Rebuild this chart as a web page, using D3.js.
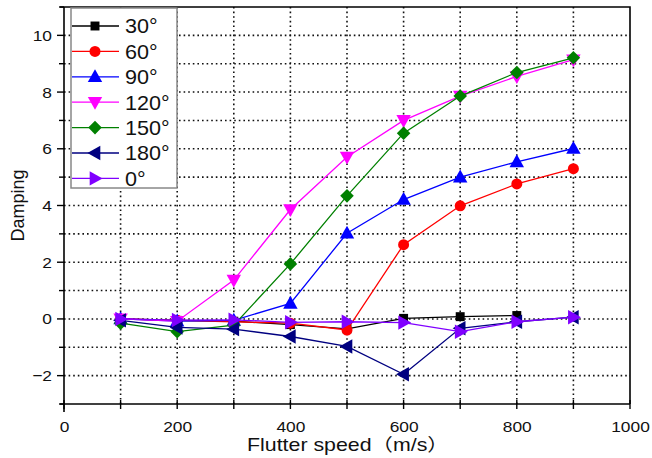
<!DOCTYPE html>
<html>
<head>
<meta charset="utf-8">
<script src="https://cdn.jsdelivr.net/npm/d3@7"></script>
<style>
  html, body { margin: 0; padding: 0; background: #fff; }
  svg { display: block; font-family: "Liberation Sans", Arial, sans-serif; }
</style>
</head>
<body>
<svg id="chart" width="652" height="458"></svg>
<script>
// Flutter speed samples (m/s)
const speeds = [100, 200, 300, 400, 500, 600, 700, 800, 900];

// Damping per azimuth angle
const angles = ["30°", "60°", "90°", "120°", "150°", "180°", "0°"];
const damp30  = [0.0, -0.05, -0.08, -0.2, -0.35, 0.02, 0.08, 0.12];
const damp60  = [0.0, -0.05, -0.1, -0.15, -0.39, 2.62, 3.99, 4.76, 5.3];
const damp90  = [0.0, -0.08, -0.05, 0.55, 3.02, 4.21, 5.0, 5.54, 6.01];
const damp120 = [0.0, -0.08, 1.37, 3.86, 5.71, 7.0, 7.86, 8.55, 9.14];
const damp150 = [-0.15, -0.45, -0.22, 1.94, 4.34, 6.55, 7.86, 8.69, 9.21];
const damp180 = [-0.05, -0.3, -0.36, -0.62, -0.97, -1.95, -0.33, -0.1, 0.06];
const damp0   = [0.0, -0.04, -0.03, -0.12, -0.1, -0.13, -0.45, -0.1, 0.06];

const seriesValues = [damp30, damp60, damp90, damp120, damp150, damp180, damp0];
const colors = ["#000000", "#ff0000", "#0000ff", "#ff00ff", "#008000", "#000080", "#8000ff"];
const symbolTypes = ["square", "circle", "triUp", "triDown", "diamond", "triLeft", "triRight"];

const xTicks = [0, 200, 400, 600, 800, 1000];
const yTicks = [-2, 0, 2, 4, 6, 8, 10];

const svg = d3.select("#chart");
const plotL = 64, plotR = 630, plotT = 7, plotB = 404;
const stretch = 1.12; // text is set slightly wide

const x = d3.scaleLinear().domain([0, 1000]).range([plotL, plotR]);
const y = d3.scaleLinear().domain([-3, 11]).range([plotB, plotT]);

// dotted grid
const grid = svg.append("g");
grid.selectAll("line.v").data(d3.range(100, 1000, 100)).join("line")
  .attr("x1", d => x(d)).attr("x2", d => x(d))
  .attr("y1", y(11)).attr("y2", y(-3))
  .attr("stroke", "#111").attr("stroke-width", 1.6).attr("stroke-dasharray", "1.6,3");
grid.selectAll("line.h").data(d3.range(-2, 11, 1)).join("line")
  .attr("y1", d => y(d)).attr("y2", d => y(d))
  .attr("x1", x(0)).attr("x2", x(1000))
  .attr("stroke", "#111").attr("stroke-width", 1.6).attr("stroke-dasharray", "1.6,3");

// frame (top and right)
svg.append("path")
  .attr("d", `M${plotL - 4},${plotT}H${plotR}V${plotB}`)
  .attr("fill", "none").attr("stroke", "#000").attr("stroke-width", 1.6);

// x axis
const xAxis = svg.append("g").attr("transform", `translate(0,${plotB})`)
  .call(d3.axisBottom(x).tickValues(xTicks).tickSize(0).tickFormat(d3.format("d")));
xAxis.select(".domain").attr("stroke-width", 1.6).attr("d", `M${plotL - 4},0H${plotR}`);
xAxis.selectAll("text").attr("font-size", 15.5).attr("fill", "#111")
  .attr("y", 0).attr("dy", null)
  .attr("transform", `translate(0,28) scale(${stretch},1)`);
svg.append("g").selectAll("line").data(d3.range(0, 1001, 100)).join("line")
  .attr("x1", d => x(d)).attr("x2", d => x(d))
  .attr("y1", plotB - 4).attr("y2", plotB + 5)
  .attr("stroke", "#000").attr("stroke-width", 1.4);

// y axis
const yAxis = svg.append("g").attr("transform", `translate(${plotL},0)`)
  .call(d3.axisLeft(y).tickValues(yTicks).tickSize(0).tickFormat(d => d < 0 ? "\u2212" + Math.abs(d) : d));
yAxis.select(".domain").attr("stroke-width", 1.6).attr("d", `M0,${plotT}V${plotB + 8}`);
yAxis.selectAll("text").attr("font-size", 15.5).attr("fill", "#111")
  .attr("x", 0).attr("transform", `translate(-12,0) scale(${stretch},1)`);
svg.append("g").selectAll("line").data(d3.range(-3, 12, 1)).join("line")
  .attr("y1", d => y(d)).attr("y2", d => y(d))
  .attr("x1", d => d % 2 === 0 ? plotL - 7 : plotL - 5).attr("x2", plotL)
  .attr("stroke", "#000").attr("stroke-width", 1.4);

// axis titles
const xTitle = svg.append("text").attr("x", 0).attr("y", 0)
  .attr("transform", `translate(247,451) scale(1.22,1)`)
  .attr("font-size", 17.5).attr("fill", "#111");
xTitle.append("tspan").text("Flutter speed");
xTitle.append("tspan").attr("font-family", "'Noto Sans CJK SC', sans-serif").text("（");
xTitle.append("tspan").text("m/s");
xTitle.append("tspan").attr("font-family", "'Noto Sans CJK SC', sans-serif").text("）");
svg.append("text").attr("transform", `translate(24,${y(4)}) rotate(-90)`)
  .attr("text-anchor", "middle").attr("font-size", 18).attr("fill", "#111")
  .text("Damping");

// marker shapes
const triUp = { draw(ctx, s) { const r = Math.sqrt(s) * 0.62; ctx.moveTo(0, -r); ctx.lineTo(r * 0.95, r * 0.7); ctx.lineTo(-r * 0.95, r * 0.7); ctx.closePath(); } };
const triDown = { draw(ctx, s) { const r = Math.sqrt(s) * 0.62; ctx.moveTo(0, r); ctx.lineTo(r * 0.95, -r * 0.7); ctx.lineTo(-r * 0.95, -r * 0.7); ctx.closePath(); } };
const triLeft = { draw(ctx, s) { const r = Math.sqrt(s) * 0.62; ctx.moveTo(-r, 0); ctx.lineTo(r * 0.7, -r * 0.95); ctx.lineTo(r * 0.7, r * 0.95); ctx.closePath(); } };
const triRight = { draw(ctx, s) { const r = Math.sqrt(s) * 0.62; ctx.moveTo(r, 0); ctx.lineTo(-r * 0.7, -r * 0.95); ctx.lineTo(-r * 0.7, r * 0.95); ctx.closePath(); } };
const diamond = { draw(ctx, s) { const r = Math.sqrt(s) * 0.62; ctx.moveTo(0, -r); ctx.lineTo(r, 0); ctx.lineTo(0, r); ctx.lineTo(-r, 0); ctx.closePath(); } };
const shapeOf = {
  square: { type: d3.symbolSquare, size: 80 },
  circle: { type: d3.symbolCircle, size: 95 },
  triUp: { type: triUp, size: 150 },
  triDown: { type: triDown, size: 150 },
  diamond: { type: diamond, size: 120 },
  triLeft: { type: triLeft, size: 150 },
  triRight: { type: triRight, size: 150 }
};
const symbolPath = i => d3.symbol().type(shapeOf[symbolTypes[i]].type).size(shapeOf[symbolTypes[i]].size)();

// series
const line = d3.line().x(d => x(d[0])).y(d => y(d[1]));
const plot = svg.append("g");
seriesValues.forEach((vals, i) => {
  const pts = vals.map((v, j) => [speeds[j], v]);
  const g = plot.append("g");
  g.append("path").attr("d", line(pts)).attr("fill", "none")
    .attr("stroke", colors[i]).attr("stroke-width", 1.3);
  g.selectAll("path.m").data(pts).join("path").attr("class", "m")
    .attr("transform", d => `translate(${x(d[0])},${y(d[1])})`)
    .attr("d", symbolPath(i)).attr("fill", colors[i]);
});

// legend
const lg = svg.append("g");
lg.append("rect").attr("x", 71).attr("y", 8).attr("width", 106).attr("height", 180)
  .attr("fill", "#fff").attr("stroke", "#888").attr("stroke-width", 1.5);
angles.forEach((name, i) => {
  const cy = 26 + i * 25.4;
  lg.append("line").attr("x1", 72).attr("x2", 119).attr("y1", cy).attr("y2", cy)
    .attr("stroke", colors[i]).attr("stroke-width", 1.3);
  lg.append("path").attr("transform", `translate(95,${cy})`).attr("d", symbolPath(i)).attr("fill", colors[i]);
  lg.append("text").attr("x", 0).attr("y", 0)
    .attr("transform", `translate(125,${cy + 7.3}) scale(1.08,1)`)
    .attr("font-size", 20).attr("fill", "#111").text(name);
});
</script>
</body>
</html>
